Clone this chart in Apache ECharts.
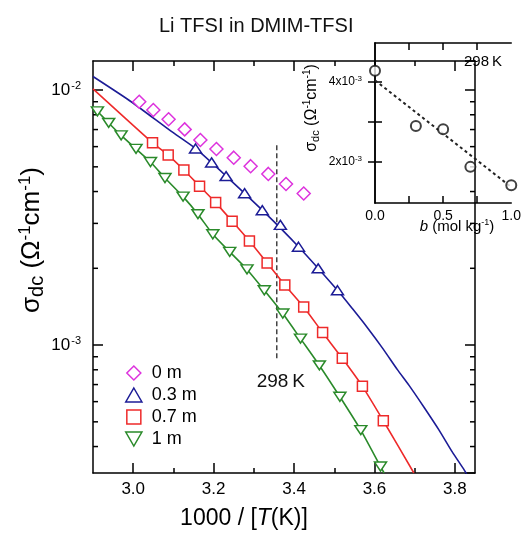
<!DOCTYPE html>
<html><head><meta charset="utf-8">
<script src="https://cdn.jsdelivr.net/npm/echarts@6/dist/echarts.min.js"></script>
<style>html,body{margin:0;padding:0;background:#fff}#c{width:524px;height:533px}</style>
</head><body><div id="c"></div>
<script>
const FONT = '"Liberation Sans", Arial, Helvetica, sans-serif';
// axis ranges
const X_MIN = 2.9, X_MAX = 3.85;
const Y_MIN = 3.15e-4, Y_MAX = 1.30e-2;
const xMajorTicks = [3.0, 3.2, 3.4, 3.6, 3.8];
const xMinorTicks = [3.1, 3.3, 3.5, 3.7];
const yMinorTicks = [4e-4, 5e-4, 6e-4, 7e-4, 8e-4, 9e-4, 2e-3, 3e-3, 4e-3, 5e-3, 6e-3, 7e-3, 8e-3, 9e-3];

// 0 m (measured)
const x0m = [3.015, 3.050, 3.088, 3.128, 3.167, 3.207, 3.250, 3.292, 3.336, 3.380, 3.424];
const s0m = [9.0e-3, 8.35e-3, 7.68e-3, 7.01e-3, 6.37e-3, 5.87e-3, 5.43e-3, 5.03e-3, 4.69e-3, 4.28e-3, 3.93e-3];
// 0.3 m
const x03m = [3.155, 3.195, 3.231, 3.277, 3.321, 3.366, 3.411, 3.460, 3.508];
const s03m = [5.90e-3, 5.20e-3, 4.60e-3, 3.94e-3, 3.38e-3, 2.96e-3, 2.43e-3, 2.00e-3, 1.64e-3];
const fit03x = [2.900, 2.995, 3.094, 3.155, 3.231, 3.321, 3.411, 3.508, 3.545, 3.582, 3.620, 3.657, 3.686, 3.724, 3.761, 3.793, 3.823, 3.830];
const fit03s = [1.13e-2, 9.0e-3, 6.9e-3, 5.9e-3, 4.6e-3, 3.38e-3, 2.43e-3, 1.64e-3, 1.39e-3, 1.172e-3, 9.73e-4, 8.01e-4, 6.95e-4, 5.68e-4, 4.63e-4, 3.82e-4, 3.24e-4, 3.10e-4];
// 0.7 m
const x07m = [3.048, 3.087, 3.126, 3.165, 3.205, 3.246, 3.289, 3.333, 3.377, 3.424, 3.471, 3.520, 3.570, 3.622];
const s07m = [6.21e-3, 5.56e-3, 4.86e-3, 4.20e-3, 3.62e-3, 3.06e-3, 2.56e-3, 2.10e-3, 1.72e-3, 1.41e-3, 1.12e-3, 8.87e-4, 6.89e-4, 5.05e-4];
const fit07x = [2.900, 3.048, 3.087, 3.126, 3.165, 3.205, 3.246, 3.289, 3.333, 3.377, 3.424, 3.471, 3.520, 3.570, 3.622, 3.698];
const fit07s = [1.01e-2, 6.21e-3, 5.56e-3, 4.86e-3, 4.20e-3, 3.62e-3, 3.06e-3, 2.56e-3, 2.10e-3, 1.72e-3, 1.41e-3, 1.12e-3, 8.87e-4, 6.89e-4, 5.05e-4, 3.15e-4];
// 1 m
const x1m = [2.911, 2.939, 2.970, 3.007, 3.043, 3.079, 3.124, 3.161, 3.198, 3.240, 3.283, 3.326, 3.372, 3.416, 3.463, 3.514, 3.566, 3.615];
const s1m = [8.25e-3, 7.43e-3, 6.64e-3, 5.88e-3, 5.22e-3, 4.52e-3, 3.82e-3, 3.26e-3, 2.72e-3, 2.32e-3, 1.98e-3, 1.64e-3, 1.33e-3, 1.06e-3, 8.32e-4, 6.27e-4, 4.64e-4, 3.34e-4];
const fit1x = [2.900, 2.911, 2.939, 2.970, 3.007, 3.043, 3.079, 3.124, 3.161, 3.198, 3.240, 3.283, 3.326, 3.372, 3.416, 3.463, 3.514, 3.566, 3.615, 3.624];
const fit1s = [8.5e-3, 8.25e-3, 7.43e-3, 6.64e-3, 5.88e-3, 5.22e-3, 4.52e-3, 3.82e-3, 3.26e-3, 2.72e-3, 2.32e-3, 1.98e-3, 1.64e-3, 1.33e-3, 1.06e-3, 8.32e-4, 6.27e-4, 4.64e-4, 3.34e-4, 3.15e-4];
// 298 K marker line
const v298x = [3.357, 3.357];
const v298s = [6.08e-3, 8.73e-4];

// inset
const B_MIN = 0, B_MAX = 1;
const SI_MIN = 0.95e-3, SI_MAX = 4.98e-3;
const bTicks = [0.25, 0.5, 0.75];
const bLabels = [0, 0.5, 1];
const siTicks = [2e-3, 3e-3, 4e-3];
const siLabels = [2e-3, 4e-3];
const bInset = [0, 0.3, 0.5, 0.7, 1.0];
const sInset = [4.28e-3, 2.89e-3, 2.81e-3, 1.86e-3, 1.40e-3];
const fitBx = [0, 1];
const fitBs = [4.04e-3, 1.35e-3];

const seriesNames = ['0 m', '0.3 m', '0.7 m', '1 m'];
const colors = ['#dd33dd', '#1c1c96', '#ee2a2a', '#2a8a2a'];
const symbols = [
  'path://M5,0 L10,5 L5,10 L0,5 Z',
  'path://M6,0 L12,10.4 L0,10.4 Z',
  'path://M0,0 L10,0 L10,10 L0,10 Z',
  'path://M0,0 L12,0 L6,10.4 Z'
];
const symSizes = [[13, 13], [12, 10.4], [10, 10], [12, 10.4]];

const zip = (a, b) => a.map((v, i) => [v, b[i]]);

const richTick = {
  b: {fontSize: 17, fontFamily: FONT, color: '#000', lineHeight: 20},
  sup: {fontSize: 11, fontFamily: FONT, color: '#000', lineHeight: 10, verticalAlign: 'top', padding: [0, 0, 0, 1]}
};
const richInsetTick = {
  b: {fontSize: 12, fontFamily: FONT, color: '#000', lineHeight: 14},
  sup: {fontSize: 8, fontFamily: FONT, color: '#000', lineHeight: 7, verticalAlign: 'top'}
};

const axisLine = {show: true, lineStyle: {color: '#000', width: 1.5}};

function scatter(i, xs, ys) {
  return {
    type: 'scatter', name: seriesNames[i], xAxisIndex: 0, yAxisIndex: 0,
    data: zip(xs, ys), symbol: symbols[i], symbolSize: symSizes[i], symbolKeepAspect: true,
    itemStyle: {color: '#fff', borderColor: colors[i], borderWidth: 1.5, opacity: 1},
    z: 10, silent: true
  };
}
function fitLine(i, xs, ys) {
  return {
    type: 'line', xAxisIndex: 0, yAxisIndex: 0, data: zip(xs, ys), showSymbol: false, symbol: 'none',
    smooth: 0.2, lineStyle: {color: colors[i], width: 1.6}, z: 5, silent: true
  };
}

const option = {
  animation: false,
  backgroundColor: '#fff',
  title: {
    text: 'Li TFSI in DMIM-TFSI', left: 154, top: 11,
    textStyle: {fontFamily: FONT, fontSize: 20, fontWeight: 'normal', color: '#111'}
  },
  grid: [
    {left: 93, top: 61, width: 382, height: 412},
    {left: 375, top: 43, width: 140, height: 160}
  ],
  legend: {
    orient: 'vertical', left: 120, top: 359, itemWidth: 26, itemHeight: 14, itemGap: 4,
    textStyle: {fontFamily: FONT, fontSize: 18, color: '#000'},
    selectedMode: false,
    data: seriesNames.map((n, i) => ({
      name: n, icon: symbols[i],
      itemStyle: {color: '#fff', borderColor: colors[i], borderWidth: 1.5}
    }))
  },
  xAxis: [
    {type: 'value', gridIndex: 0, position: 'bottom', min: X_MIN, max: X_MAX,
      axisLine, splitLine: {show: false},
      axisTick: {inside: true, length: 10, lineStyle: {color: '#000', width: 1.5}, customValues: xMajorTicks},
      axisLabel: {customValues: xMajorTicks, formatter: v => v.toFixed(1), fontFamily: FONT, fontSize: 17, color: '#000', margin: 8}},
    {type: 'value', gridIndex: 0, position: 'bottom', min: X_MIN, max: X_MAX,
      axisLine: {show: false}, splitLine: {show: false}, axisLabel: {show: false},
      axisTick: {inside: true, length: 5, lineStyle: {color: '#000', width: 1.5}, customValues: xMinorTicks}},
    {type: 'value', gridIndex: 0, position: 'top', min: X_MIN, max: X_MAX,
      axisLine, splitLine: {show: false}, axisLabel: {show: false},
      axisTick: {inside: true, length: 10, lineStyle: {color: '#000', width: 1.5}, customValues: xMajorTicks}},
    {type: 'value', gridIndex: 0, position: 'top', min: X_MIN, max: X_MAX,
      axisLine: {show: false}, splitLine: {show: false}, axisLabel: {show: false},
      axisTick: {inside: true, length: 5, lineStyle: {color: '#000', width: 1.5}, customValues: xMinorTicks}},
    {type: 'value', gridIndex: 1, position: 'bottom', min: B_MIN, max: B_MAX,
      axisLine, splitLine: {show: false},
      axisTick: {inside: true, length: 7, lineStyle: {color: '#000', width: 1.5}, customValues: bTicks},
      axisLabel: {customValues: bLabels, formatter: v => v.toFixed(1), fontFamily: FONT, fontSize: 14, color: '#000', margin: 6}},
    {type: 'value', gridIndex: 1, position: 'top', min: B_MIN, max: B_MAX,
      axisLine, splitLine: {show: false}, axisLabel: {show: false},
      axisTick: {inside: true, length: 7, lineStyle: {color: '#000', width: 1.5}, customValues: bTicks}}
  ],
  yAxis: [
    {type: 'log', logBase: 10, gridIndex: 0, position: 'left', min: Y_MIN, max: Y_MAX,
      axisLine, splitLine: {show: false}, minorTick: {show: false},
      axisTick: {inside: true, length: 10, lineStyle: {color: '#000', width: 1.5}},
      axisLabel: {
        margin: 12, showMinLabel: false, showMaxLabel: false, rich: richTick,
        formatter: v => {
          const e = Math.round(Math.log10(v));
          return Math.abs(v / Math.pow(10, e) - 1) < 1e-6 ? '{b|10}{sup|' + e + '}' : '';
        }
      }},
    {type: 'log', logBase: 10, gridIndex: 0, position: 'right', min: Y_MIN, max: Y_MAX,
      axisLine, splitLine: {show: false}, axisLabel: {show: false},
      axisTick: {inside: true, length: 10, lineStyle: {color: '#000', width: 1.5}}},
    {type: 'value', gridIndex: 1, position: 'left', min: SI_MIN, max: SI_MAX,
      axisLine, splitLine: {show: false},
      axisTick: {inside: true, length: 7, lineStyle: {color: '#000', width: 1.5}, customValues: siTicks},
      axisLabel: {customValues: siLabels, margin: 13, rich: richInsetTick,
        formatter: v => '{b|' + Math.round(v * 1000) + 'x10}{sup|-3}'}},
    {type: 'value', gridIndex: 1, position: 'right', min: SI_MIN, max: SI_MAX,
      axisLine, splitLine: {show: false}, axisLabel: {show: false},
      axisTick: {inside: true, length: 7, lineStyle: {color: '#000', width: 1.5}, customValues: siTicks}}
  ],
  series: [
    scatter(0, x0m, s0m),
    fitLine(1, fit03x, fit03s), scatter(1, x03m, s03m),
    fitLine(2, fit07x, fit07s), scatter(2, x07m, s07m),
    fitLine(3, fit1x, fit1s), scatter(3, x1m, s1m),
    {type: 'line', xAxisIndex: 0, yAxisIndex: 0, silent: true, symbol: 'none', showSymbol: false,
      data: zip(v298x, v298s),
      lineStyle: {color: '#444', width: 1.5, type: [5, 3]}, z: 4,
      markPoint: {
        silent: true, symbol: 'circle', symbolSize: 1, itemStyle: {color: 'rgba(0,0,0,0)'},
        label: {show: true, formatter: '298\u2009K', position: 'bottom', distance: 12, offset: [4, 0],
          fontFamily: FONT, fontSize: 19, color: '#111'},
        data: [{coord: [v298x[1], v298s[1]]}]
      }},
    {type: 'custom', xAxisIndex: 0, yAxisIndex: 0, silent: true, clip: false, z: 6,
      data: yMinorTicks.map(v => [X_MIN, v]),
      renderItem: (params, api) => {
        const cs = params.coordSys;
        const y = api.coord([api.value(0), api.value(1)])[1];
        const st = {stroke: '#000', lineWidth: 1.5};
        return {type: 'group', children: [
          {type: 'line', shape: {x1: cs.x, y1: y, x2: cs.x + 5, y2: y}, style: st},
          {type: 'line', shape: {x1: cs.x + cs.width - 5, y1: y, x2: cs.x + cs.width, y2: y}, style: st}
        ]};
      }},
    {type: 'line', xAxisIndex: 4, yAxisIndex: 2, silent: true, symbol: 'none', showSymbol: false,
      data: zip(fitBx, fitBs), lineStyle: {color: '#222', width: 2, type: [3, 3]}, z: 4},
    {type: 'scatter', xAxisIndex: 4, yAxisIndex: 2, silent: true, data: zip(bInset, sInset),
      symbol: 'circle', symbolSize: 10, itemStyle: {color: '#fff', borderColor: '#111', borderWidth: 2}, z: 10}
  ],
  graphic: [
    {type: 'text', x: 32, y: 240, rotation: Math.PI / 2, silent: true,
      style: {text: '{n|σ}{sub|dc} {n|(Ω}{sup|-1}{n|cm}{sup|-1}{n|)}', align: 'center', verticalAlign: 'middle',
        font: '26px ' + FONT,
        rich: {
          n: {fontFamily: FONT, fontSize: 26, lineHeight: 30, fill: '#000'},
          sub: {fontFamily: FONT, fontSize: 20, lineHeight: 16, verticalAlign: 'bottom', fill: '#000'},
          sup: {fontFamily: FONT, fontSize: 17, lineHeight: 13, verticalAlign: 'top', fill: '#000'}
        }}},
    {type: 'text', x: 244, y: 519, silent: true,
      style: {text: '{n|1000 / [}{i|T}{n|(K)]}', align: 'center', verticalAlign: 'middle',
        rich: {
          n: {fontFamily: FONT, fontSize: 23, fill: '#000'},
          i: {fontFamily: FONT, fontSize: 23, fontStyle: 'italic', fill: '#000'}
        }}},
    {type: 'text', x: 312, y: 108, rotation: Math.PI / 2, silent: true,
      style: {text: '{n|σ}{sub|dc}{n| (Ω}{sup|-1}{n|cm}{sup|-1}{n|)}', align: 'center', verticalAlign: 'middle',
        rich: {
          n: {fontFamily: FONT, fontSize: 16, lineHeight: 19, fill: '#000'},
          sub: {fontFamily: FONT, fontSize: 11, lineHeight: 9, verticalAlign: 'bottom', fill: '#000'},
          sup: {fontFamily: FONT, fontSize: 10, lineHeight: 8, verticalAlign: 'top', fill: '#000'}
        }}},
    {type: 'text', x: 457, y: 227, silent: true,
      style: {text: '{i|b}{n| (mol kg}{sup|-1}{n|)}', align: 'center', verticalAlign: 'middle',
        rich: {
          n: {fontFamily: FONT, fontSize: 15, lineHeight: 18, fill: '#000'},
          i: {fontFamily: FONT, fontSize: 15, lineHeight: 18, fontStyle: 'italic', fill: '#000'},
          sup: {fontFamily: FONT, fontSize: 9, lineHeight: 8, verticalAlign: 'top', fill: '#000'}
        }}},
    {type: 'text', x: 483, y: 62, silent: true,
      style: {text: '298\u2009K', align: 'center', verticalAlign: 'middle', fontFamily: FONT, fontSize: 15, fill: '#000'}}
  ]
};

const chart = echarts.init(document.getElementById('c'), null, {renderer: 'canvas'});
chart.setOption(option);
</script>
</body></html>
